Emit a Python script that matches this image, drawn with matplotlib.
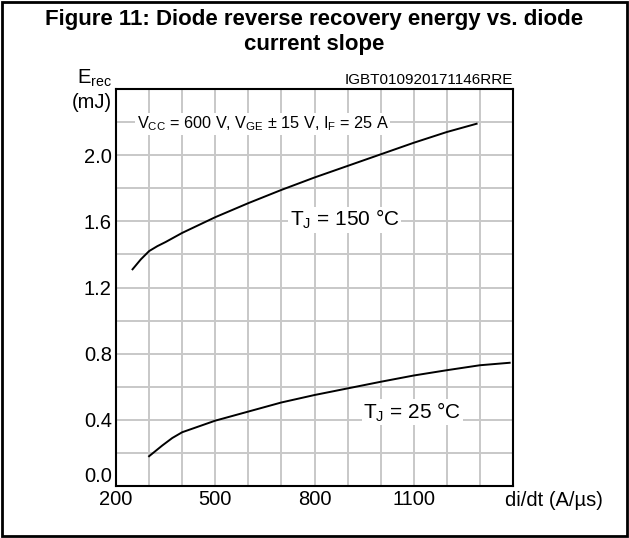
import matplotlib
matplotlib.use("Agg")
import matplotlib.pyplot as plt
from matplotlib.patches import Rectangle

# ===================
# CONFIGURATION
# ===================
FIG_SIZE = (6.29, 5.38)
DPI = 100
OUTPUT_FILENAME = "out.png"
FONT = "Liberation Sans"
GRID_COLOR = "#c8c8c8"

plt.rcParams["font.family"] = [FONT, "DejaVu Sans"]
plt.rcParams["mathtext.fontset"] = "custom"
plt.rcParams["mathtext.rm"] = FONT
plt.rcParams["mathtext.it"] = FONT + ":italic"
plt.rcParams["mathtext.bf"] = FONT + ":bold"

# ===================
# DATA
# ===================
didt_150 = [250, 275, 300, 325, 350, 400, 500, 600, 700, 800, 900, 1000, 1100, 1200, 1290]
erec_150 = [1.31, 1.37, 1.42, 1.45, 1.475, 1.53, 1.625, 1.71, 1.79, 1.865, 1.935, 2.005, 2.075, 2.14, 2.19]

didt_25 = [300, 340, 370, 400, 500, 600, 700, 800, 900, 1000, 1100, 1200, 1300, 1390]
erec_25 = [0.18, 0.245, 0.29, 0.325, 0.395, 0.45, 0.505, 0.55, 0.59, 0.63, 0.668, 0.70, 0.73, 0.745]

x_ticks = list(range(200, 1401, 100))
x_labels = ["200", "", "", "500", "", "", "800", "", "", "1100", "", "", ""]
y_ticks = [0.0, 0.2, 0.4, 0.6, 0.8, 1.0, 1.2, 1.4, 1.6, 1.8, 2.0, 2.2, 2.4]
y_labels = ["0.0", "", "0.4", "", "0.8", "", "1.2", "", "1.6", "", "2.0", "", ""]

TITLE = "Figure 11: Diode reverse recovery energy vs. diode\ncurrent slope"
CONDITIONS = r"V$_{\rm CC}$ = 600 V, V$_{\rm GE}$ ± 15 V, I$_{\rm F}$ = 25 A"
LABEL_150 = r"T$_{\rm J}$ = 150 °C"
LABEL_25 = r"T$_{\rm J}$ = 25 °C"
CODE = "IGBT010920171146RRE"


# ===================
# PLOTTING
# ===================
def make_figure():
    fig = plt.figure(figsize=FIG_SIZE, dpi=DPI)
    ax = fig.add_axes([116 / 629, 1 - 486 / 538, 397 / 629, 397 / 538])

    # outer frame
    fig.patches.append(Rectangle((0.003, 0.003), 0.994, 0.993, transform=fig.transFigure,
                                 fill=False, edgecolor="black", linewidth=2))

    fig.text(0.5, 1 - 32 / 538, TITLE, ha="center", va="center", fontsize=16,
             weight="bold", linespacing=1.2)

    ax.plot(didt_150, erec_150, color="black", linewidth=1.4, zorder=3)
    ax.plot(didt_25, erec_25, color="black", linewidth=1.4, zorder=3)

    ax.set_xlim(200, 1400)
    ax.set_ylim(0, 2.4)
    ax.set_xticks(x_ticks)
    ax.set_xticklabels(x_labels)
    ax.set_yticks(y_ticks)
    ax.set_yticklabels(y_labels)
    ax.tick_params(length=0, labelsize=14.5, pad=3)
    ax.get_yticklabels()[0].set_va("bottom")
    ax.grid(True, color=GRID_COLOR, linewidth=1.4)
    ax.set_axisbelow(True)
    for spine in ax.spines.values():
        spine.set_linewidth(1.5)

    box = dict(facecolor="white", edgecolor="none", pad=1)
    ax.text(262, 2.19, CONDITIONS, ha="left", va="center", fontsize=11.7, bbox=box, zorder=4)
    ax.text(725, 1.61, LABEL_150, ha="left", va="center", fontsize=15, bbox=box, zorder=4)
    ax.text(948, 0.445, LABEL_25, ha="left", va="center", fontsize=15, bbox=box, zorder=4)

    ax.text(1.0, 1.004, CODE, transform=ax.transAxes, ha="right", va="bottom", fontsize=11)
    ax.text(-0.01, 1.0, r"E$_{\rm rec}$", transform=ax.transAxes, ha="right", va="bottom", fontsize=14.5)
    ax.text(-0.01, 0.99, "(mJ)", transform=ax.transAxes, ha="right", va="top", fontsize=14.5)
    fig.text(603 / 629, 1 - 500 / 538, "di/dt (A/µs)", ha="right", va="center", fontsize=14.5)

    return fig


# ===================
# MAIN
# ===================
def main():
    fig = make_figure()
    fig.savefig(OUTPUT_FILENAME, dpi=DPI)
    plt.close(fig)


if __name__ == "__main__":
    main()
